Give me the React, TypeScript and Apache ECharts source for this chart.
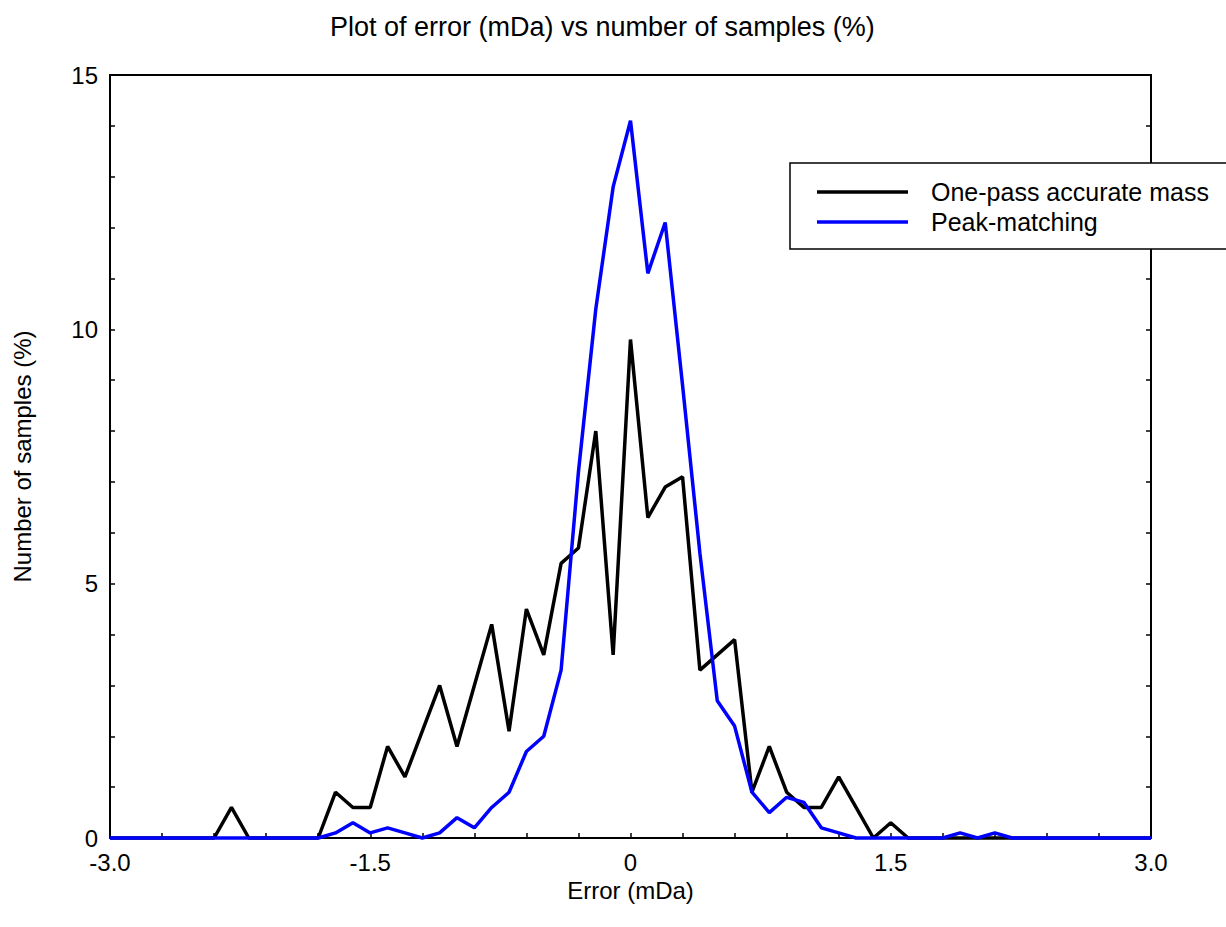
import React, { useEffect, useRef } from "react";
import * as echarts from "echarts";

const errorValues = [
  -3.0, -2.9, -2.8, -2.7, -2.6, -2.5, -2.4, -2.3, -2.2, -2.1,
  -2.0, -1.9, -1.8, -1.7, -1.6, -1.5, -1.4, -1.3, -1.2, -1.1,
  -1.0, -0.9, -0.8, -0.7, -0.6, -0.5, -0.4, -0.3, -0.2, -0.1,
  0.0, 0.1, 0.2, 0.3, 0.4, 0.5, 0.6, 0.7, 0.8, 0.9,
  1.0, 1.1, 1.2, 1.3, 1.4, 1.5, 1.6, 1.7, 1.8, 1.9,
  2.0, 2.1, 2.2, 2.3, 2.4, 2.5, 2.6, 2.7, 2.8, 2.9,
  3.0,
];

const onePassValues = [
  0, 0, 0, 0, 0, 0, 0, 0.6, 0, 0,
  0, 0, 0, 0.9, 0.6, 0.6, 1.8, 1.2, 2.1, 3.0,
  1.8, 3.0, 4.2, 2.1, 4.5, 3.6, 5.4, 5.7, 8.0, 3.6,
  9.8, 6.3, 6.9, 7.1, 3.3, 3.6, 3.9, 0.9, 1.8, 0.9,
  0.6, 0.6, 1.2, 0.6, 0, 0.3, 0, 0, 0, 0,
  0, 0, 0, 0, 0, 0, 0, 0, 0, 0,
  0,
];

const peakMatchingValues = [
  0, 0, 0, 0, 0, 0, 0, 0, 0, 0,
  0, 0, 0, 0.1, 0.3, 0.1, 0.2, 0.1, 0, 0.1,
  0.4, 0.2, 0.6, 0.9, 1.7, 2.0, 3.3, 7.2, 10.4, 12.8,
  14.1, 11.1, 12.1, 8.9, 5.6, 2.7, 2.2, 0.9, 0.5, 0.8,
  0.7, 0.2, 0.1, 0, 0, 0, 0, 0, 0, 0.1,
  0, 0.1, 0, 0, 0, 0, 0, 0, 0, 0,
  0,
];

const xTickLabels: Record<string, string> = {
  "-3": "-3.0",
  "-1.5": "-1.5",
  "0": "0",
  "1.5": "1.5",
  "3": "3.0",
};

const yTickLabels: Record<string, string> = {
  "0": "0",
  "5": "5",
  "10": "10",
  "15": "15",
};

const seriesNames = ["One-pass accurate mass", "Peak-matching"];
const seriesColors = ["#000000", "#0000ff"];

const FONT = "'Liberation Sans', Arial, Helvetica, sans-serif";

export default function App() {
  const ref = useRef<HTMLDivElement>(null);

  useEffect(() => {
    if (!ref.current) return;
    const chart = echarts.init(ref.current, undefined, { renderer: "svg" });

    const xFmt = (v: number) => {
      const k = String(Math.round(v * 10) / 10);
      return xTickLabels[k] ?? "";
    };
    const yFmt = (v: number) => {
      const k = String(Math.round(v));
      return yTickLabels[k] ?? "";
    };

    const axisLine = { show: true, onZero: false, lineStyle: { color: "#000", width: 2 } };
    const tick = { show: true, inside: true, length: 5, lineStyle: { color: "#000", width: 1.5 } };

    chart.setOption({
      animation: false,
      backgroundColor: "#ffffff",
      textStyle: { fontFamily: FONT },
      title: {
        text: "Plot of error (mDa) vs number of samples (%)",
        left: 325,
        top: 8,
        textStyle: { fontFamily: FONT, fontSize: 27, fontWeight: "normal", color: "#000" },
      },
      grid: { left: 110, top: 75, right: 75, bottom: 89, containLabel: false },
      xAxis: [
        {
          type: "value",
          min: -3,
          max: 3,
          interval: 0.3,
          position: "bottom",
          name: "Error (mDa)",
          nameLocation: "middle",
          nameGap: 31,
          nameTextStyle: { fontFamily: FONT, fontSize: 24, color: "#000" },
          axisLine,
          axisTick: tick,
          axisLabel: { formatter: xFmt, fontFamily: FONT, fontSize: 24, color: "#000", margin: 12, showMinLabel: true, showMaxLabel: true },
          splitLine: { show: false },
        },
        {
          type: "value",
          min: -3,
          max: 3,
          interval: 0.3,
          position: "top",
          axisLine,
          axisTick: { show: false },
          axisLabel: { show: false },
          splitLine: { show: false },
        },
      ],
      yAxis: [
        {
          type: "value",
          min: 0,
          max: 15,
          interval: 1,
          position: "left",
          name: "Number of samples (%)",
          nameLocation: "middle",
          nameGap: 76,
          nameRotate: 90,
          nameTextStyle: { fontFamily: FONT, fontSize: 24, color: "#000" },
          axisLine,
          axisTick: tick,
          axisLabel: { formatter: yFmt, fontFamily: FONT, fontSize: 24, color: "#000", margin: 12 },
          splitLine: { show: false },
        },
        {
          type: "value",
          min: 0,
          max: 15,
          interval: 1,
          position: "right",
          axisLine,
          axisTick: tick,
          axisLabel: { show: false },
          splitLine: { show: false },
        },
      ],
      series: [
        {
          name: seriesNames[0],
          type: "line",
          data: errorValues.map((x, i) => [x, onePassValues[i]]),
          showSymbol: false,
          symbol: "none",
          clip: false,
          lineStyle: { color: seriesColors[0], width: 3.5 },
          itemStyle: { color: seriesColors[0] },
          z: 3,
        },
        {
          name: seriesNames[1],
          type: "line",
          data: errorValues.map((x, i) => [x, peakMatchingValues[i]]),
          showSymbol: false,
          symbol: "none",
          clip: false,
          lineStyle: { color: seriesColors[1], width: 3.5 },
          itemStyle: { color: seriesColors[1] },
          z: 4,
        },
      ],
      graphic: [
        {
          type: "rect",
          shape: { x: 790, y: 163, width: 500, height: 86 },
          style: { fill: "#fff", stroke: "#000", lineWidth: 1.5 },
          z: 10,
        },
        {
          type: "line",
          shape: { x1: 817, y1: 192, x2: 908, y2: 192 },
          style: { stroke: seriesColors[0], lineWidth: 3.5 },
          z: 11,
        },
        {
          type: "line",
          shape: { x1: 817, y1: 222, x2: 908, y2: 222 },
          style: { stroke: seriesColors[1], lineWidth: 3.5 },
          z: 11,
        },
        {
          type: "text",
          x: 931,
          y: 192,
          style: { text: seriesNames[0], fill: "#000", font: `25px ${FONT}`, verticalAlign: "middle" },
          z: 11,
        },
        {
          type: "text",
          x: 931,
          y: 222,
          style: { text: seriesNames[1], fill: "#000", font: `25px ${FONT}`, verticalAlign: "middle" },
          z: 11,
        },
      ],
    });

    return () => chart.dispose();
  }, []);

  return (
    <div
      ref={ref}
      style={{ position: "fixed", left: 0, top: 0, width: 1226, height: 927, background: "#fff" }}
    />
  );
}
